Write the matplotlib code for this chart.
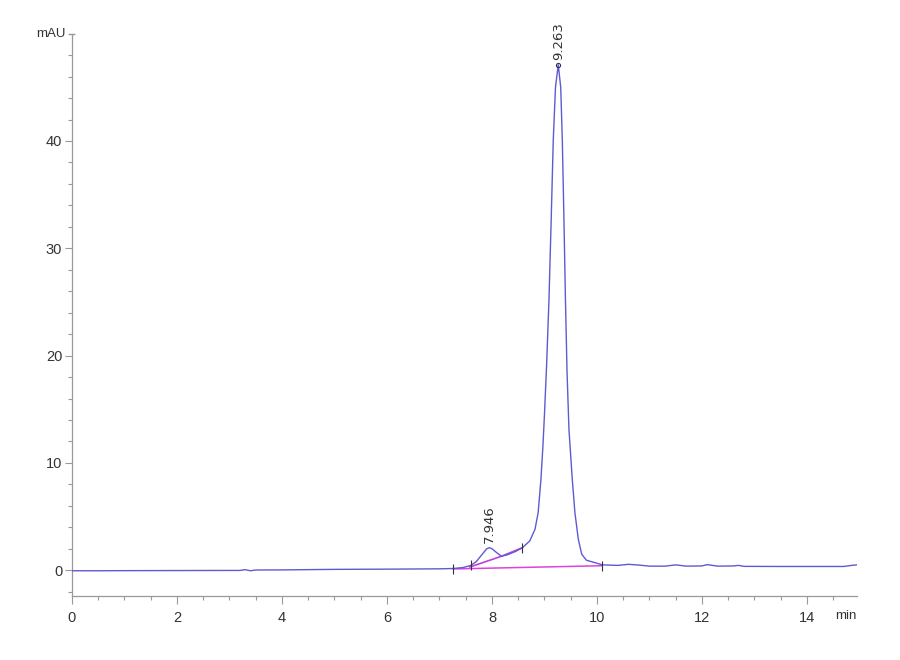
import matplotlib
matplotlib.use("Agg")
import matplotlib.pyplot as plt
from matplotlib.ticker import MultipleLocator

# chromatogram trace (min, mAU)
time_min = [0.0, 0.5, 1.0, 2.0, 3.0, 3.2, 3.3, 3.4, 3.5, 4.0, 5.0, 6.0, 7.0,
            7.26, 7.45, 7.6, 7.7, 7.8, 7.9, 7.95, 8.0, 8.1, 8.18, 8.3, 8.45,
            8.58, 8.72, 8.82, 8.88, 8.933, 8.97, 9.0, 9.04, 9.086, 9.13,
            9.168, 9.21, 9.263, 9.31, 9.34, 9.37, 9.40, 9.43, 9.467, 9.53,
            9.58, 9.645, 9.71, 9.80, 9.96, 10.1, 10.4, 10.6,
            10.8, 11.0, 11.3, 11.5, 11.7, 12.0, 12.1, 12.3, 12.6, 12.7, 12.8,
            13.5, 14.0, 14.7, 14.85, 14.95]
signal_mau = [-0.05, -0.05, -0.04, -0.03, -0.02, -0.02, 0.05, -0.05, 0.02,
              0.03, 0.08, 0.1, 0.13, 0.16, 0.25, 0.45, 0.8, 1.4, 2.0, 2.1,
              2.0, 1.6, 1.3, 1.45, 1.75, 2.1, 2.73, 3.81, 5.37, 8.47, 11.5,
              14.5, 19.0, 25.2, 33.0, 40.1, 45.0, 47.1, 45.0, 40.1, 33.0,
              25.2, 18.5, 13.1, 8.47, 5.37, 2.88, 1.49, 0.93, 0.71, 0.5,
              0.45, 0.55, 0.48, 0.38, 0.38, 0.5, 0.38, 0.4, 0.52, 0.38, 0.4,
              0.45, 0.36, 0.35, 0.35, 0.35, 0.45, 0.5]

# integration baselines
base_main_t = [7.26, 10.1]
base_main_v = [0.12, 0.42]
base_skim_t = [7.58, 8.18, 8.58]
base_skim_v = [0.3, 1.3, 2.1]

# peak start/end markers
event_t = [7.26, 7.6, 8.58, 10.1]
event_v = [0.16, 0.45, 2.1, 0.42]

peak_rt = [7.946, 9.263]
peak_top = [2.1, 47.1]
peak_labels = ["7.946", "9.263"]

plt.rcParams["font.family"] = ["Liberation Sans", "DejaVu Sans"]

fig = plt.figure(figsize=(9, 6.6), dpi=100)
ax = fig.add_axes([0.08, 0.097, 0.872, 0.852])

ax.plot(time_min, signal_mau, color="#5e5ad2", lw=1.0, zorder=3)
ax.plot(base_main_t, base_main_v, color="#e040e0", lw=1.1, zorder=2)
ax.plot(base_skim_t, base_skim_v, color="#c040d8", lw=1.2, zorder=2)
ax.plot(event_t, event_v, ls="none", marker="|", ms=7, mew=0.8,
        color="#333333", zorder=4)
ax.plot([peak_rt[1]], [peak_top[1]], ls="none", marker="o", ms=3,
        mfc="none", mec="#333355", mew=0.8, zorder=4)

for rt, top, lab in zip(peak_rt, peak_top, peak_labels):
    ax.text(rt, top + 0.4, lab, rotation=90, ha="center", va="bottom",
            fontsize=9.5, color="#333333", family="DejaVu Sans")

ax.set_xlim(0, 14.95)
ax.set_ylim(-2.4, 50)
ax.xaxis.set_major_locator(MultipleLocator(2))
ax.xaxis.set_minor_locator(MultipleLocator(0.5))
ax.set_yticks([0, 10, 20, 30, 40])
ax.yaxis.set_minor_locator(MultipleLocator(2))

for s in ["top", "right"]:
    ax.spines[s].set_visible(False)
for s in ["left", "bottom"]:
    ax.spines[s].set_color("#999999")
    ax.spines[s].set_linewidth(0.9)

ax.tick_params(axis="x", which="major", length=6, width=0.8, color="#999999",
               labelsize=10.5, labelcolor="#333333", pad=5)
ax.tick_params(axis="x", which="minor", length=3, width=0.8, color="#999999")
ax.tick_params(axis="y", which="major", length=5, width=0.8, color="#999999",
               labelsize=10.5, labelcolor="#333333", pad=2)
ax.tick_params(axis="y", which="minor", length=3, width=0.8, color="#999999")

# unit labels at axis ends
ax.plot([0], [50], ls="none", marker="_", ms=5, color="#999999",
        clip_on=False)
ax.text(-0.12, 50, "mAU", ha="right", va="center", fontsize=9.5,
        color="#333333")
ax.text(14.95, -3.75, "min", ha="right", va="top", fontsize=9.5,
        color="#333333")

fig.savefig("out.png", dpi=100, facecolor="white")
